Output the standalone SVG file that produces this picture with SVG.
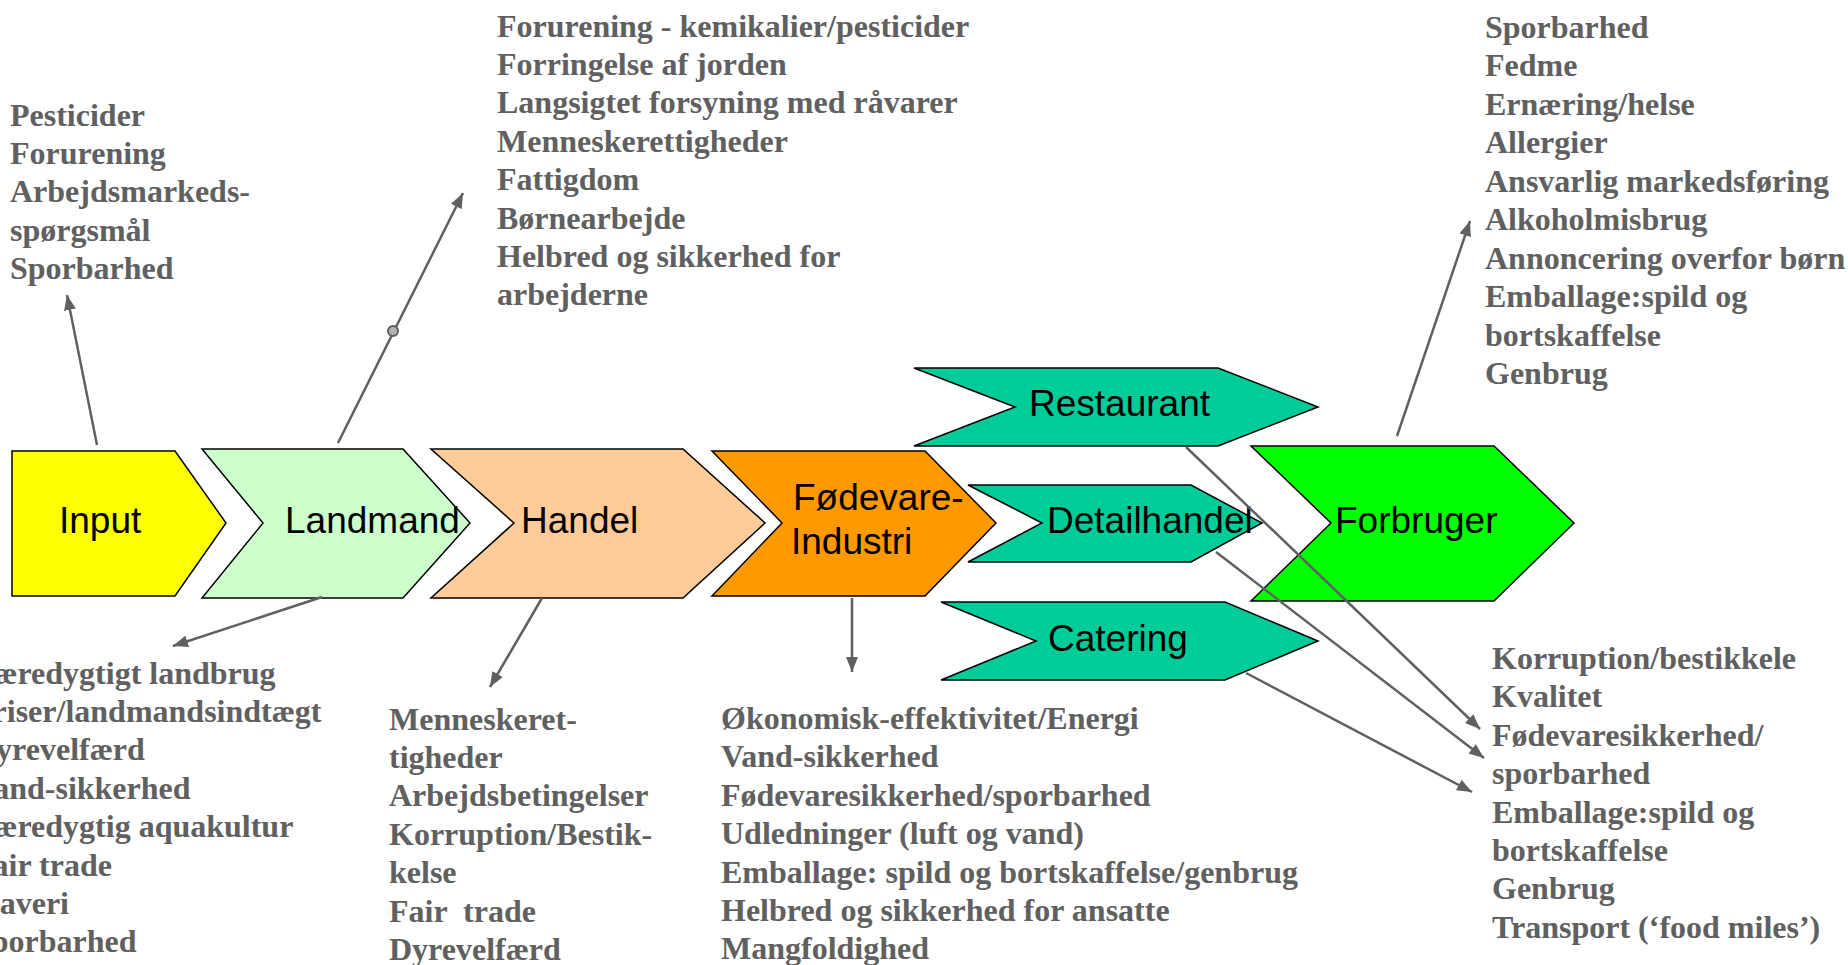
<svg xmlns="http://www.w3.org/2000/svg" width="1848" height="965" viewBox="0 0 1848 965">
<defs>
<style>
.shape{stroke:#000;stroke-width:1.5;stroke-linejoin:miter}
.lbl{font-family:"Liberation Sans",Arial,sans-serif;font-size:37px;fill:#000}
.iss{font-family:"Liberation Serif","Times New Roman",serif;font-size:32px;font-weight:bold;fill:#606060;white-space:pre}
.conn{stroke:#606060;stroke-width:2.5;fill:none}
</style>
<marker id="arr" viewBox="0 0 15 12" refX="15" refY="6" markerWidth="15" markerHeight="12" markerUnits="userSpaceOnUse" orient="auto">
<path d="M0,0 L15,6 L0,12 z" fill="#606060"/>
</marker>
</defs>
<rect width="1848" height="965" fill="#fff"/>

<g id="input">
<polygon class="shape" fill="#FFFF00" points="12,451 175,451 226,523 175,596 12,596"/>
<text class="lbl" x="59" y="533">Input</text>
</g>
<g id="landmand">
<polygon class="shape" fill="#CCFFCC" points="202,449 403,449 470,523 403,598 202,598 263,523"/>
<text class="lbl" x="285" y="533">Landmand</text>
</g>
<g id="handel">
<polygon class="shape" fill="#FFCC99" points="431,449 683,449 765,523 683,598 431,598 514,523"/>
<text class="lbl" x="521" y="533">Handel</text>
</g>
<g id="fodevareindustri">
<polygon class="shape" fill="#FF9900" points="712,451 925,451 996,523 925,596 712,596 782,523"/>
<text class="lbl" x="793" y="510">Fødevare-</text>
<text class="lbl" x="791" y="554">Industri</text>
</g>
<g id="restaurant">
<polygon class="shape" fill="#00CC99" points="914,368 1218,368 1318,407 1218,446 914,446 1015,407"/>
<text class="lbl" x="1029" y="416">Restaurant</text>
</g>
<g id="detailhandel">
<polygon class="shape" fill="#00CC99" points="968,485 1191,485 1262,523 1191,562 968,562 1042,523"/>
<text class="lbl" x="1047" y="533">Detailhandel</text>
</g>
<g id="catering">
<polygon class="shape" fill="#00CC99" points="941,602 1225,602 1318,641 1225,680 941,680 1036,641"/>
<text class="lbl" x="1048" y="651">Catering</text>
</g>
<g id="forbruger">
<polygon class="shape" fill="#00FF00" points="1251,446 1494,446 1574,523 1494,601 1251,601 1331,523"/>
<text class="lbl" x="1335" y="533">Forbruger</text>
</g>

<g id="connectors">
<line class="conn" x1="97" y1="445" x2="67" y2="295" marker-end="url(#arr)"/>
<line class="conn" x1="338" y1="443" x2="463" y2="193" marker-end="url(#arr)"/>
<circle cx="393" cy="331" r="5" fill="#b0b0b0" stroke="#606060" stroke-width="2"/>
<line class="conn" x1="322" y1="597" x2="173" y2="646" marker-end="url(#arr)"/>
<line class="conn" x1="542" y1="598" x2="490" y2="687" marker-end="url(#arr)"/>
<line class="conn" x1="852" y1="598" x2="852" y2="672" marker-end="url(#arr)"/>
<line class="conn" x1="1397" y1="436" x2="1470" y2="221" marker-end="url(#arr)"/>
<line class="conn" x1="1186" y1="447" x2="1480" y2="729" marker-end="url(#arr)"/>
<line class="conn" x1="1216" y1="552" x2="1484" y2="758" marker-end="url(#arr)"/>
<line class="conn" x1="1246" y1="673" x2="1472" y2="792" marker-end="url(#arr)"/>
</g>

<g id="issues-input">
<text class="iss" x="10" y="125.5">Pesticider</text>
<text class="iss" x="10" y="164">Forurening</text>
<text class="iss" x="10" y="202.4">Arbejdsmarkeds-</text>
<text class="iss" x="10" y="240.8">spørgsmål</text>
<text class="iss" x="10" y="279.2">Sporbarhed</text>
</g>
<g id="issues-landmand-top">
<text class="iss" x="497" y="36.5">Forurening - kemikalier/pesticider</text>
<text class="iss" x="497" y="74.9">Forringelse af jorden</text>
<text class="iss" x="497" y="113.3">Langsigtet forsyning med råvarer</text>
<text class="iss" x="497" y="151.7">Menneskerettigheder</text>
<text class="iss" x="497" y="190.1">Fattigdom</text>
<text class="iss" x="497" y="228.5">Børnearbejde</text>
<text class="iss" x="497" y="266.9">Helbred og sikkerhed for</text>
<text class="iss" x="497" y="305.3">arbejderne</text>
</g>
<g id="issues-forbruger">
<text class="iss" x="1485" y="37.5">Sporbarhed</text>
<text class="iss" x="1485" y="76">Fedme</text>
<text class="iss" x="1485" y="114.5">Ernæring/helse</text>
<text class="iss" x="1485" y="153">Allergier</text>
<text class="iss" x="1485" y="191.5">Ansvarlig markedsføring</text>
<text class="iss" x="1485" y="230">Alkoholmisbrug</text>
<text class="iss" x="1485" y="268.5">Annoncering overfor børn</text>
<text class="iss" x="1485" y="307">Emballage:spild og</text>
<text class="iss" x="1485" y="345.5">bortskaffelse</text>
<text class="iss" x="1485" y="384">Genbrug</text>
</g>
<g id="issues-landmand-bottom">
<text class="iss" x="-27" y="683.5">Bæredygtigt landbrug</text>
<text class="iss" x="-27" y="721.9">Priser/landmandsindtægt</text>
<text class="iss" x="-27" y="760.3">Dyrevelfærd</text>
<text class="iss" x="-27" y="798.7">Vand-sikkerhed</text>
<text class="iss" x="-27" y="837.1">Bæredygtig aquakultur</text>
<text class="iss" x="-27" y="875.5">Fair trade</text>
<text class="iss" x="-27" y="913.9">Slaveri</text>
<text class="iss" x="-27" y="952.3">Sporbarhed</text>
</g>
<g id="issues-handel">
<text class="iss" x="389" y="729.5">Menneskeret-</text>
<text class="iss" x="389" y="767.9">tigheder</text>
<text class="iss" x="389" y="806.3">Arbejdsbetingelser</text>
<text class="iss" x="389" y="844.7">Korruption/Bestik-</text>
<text class="iss" x="389" y="883.1">kelse</text>
<text class="iss" x="389" y="921.5">Fair  trade</text>
<text class="iss" x="389" y="959.9">Dyrevelfærd</text>
</g>
<g id="issues-fodevareindustri">
<text class="iss" x="721" y="729">Økonomisk-effektivitet/Energi</text>
<text class="iss" x="721" y="767.4">Vand-sikkerhed</text>
<text class="iss" x="721" y="805.8">Fødevaresikkerhed/sporbarhed</text>
<text class="iss" x="721" y="844.2">Udledninger (luft og vand)</text>
<text class="iss" x="721" y="882.6">Emballage: spild og bortskaffelse/genbrug</text>
<text class="iss" x="721" y="921">Helbred og sikkerhed for ansatte</text>
<text class="iss" x="721" y="959.4">Mangfoldighed</text>
</g>
<g id="issues-detail">
<text class="iss" x="1492" y="669">Korruption/bestikkele</text>
<text class="iss" x="1492" y="707.4">Kvalitet</text>
<text class="iss" x="1492" y="745.8">Fødevaresikkerhed/</text>
<text class="iss" x="1492" y="784.2">sporbarhed</text>
<text class="iss" x="1492" y="822.6">Emballage:spild og</text>
<text class="iss" x="1492" y="861">bortskaffelse</text>
<text class="iss" x="1492" y="899.4">Genbrug</text>
<text class="iss" x="1492" y="937.8">Transport (‘food miles’)</text>
</g>
</svg>
